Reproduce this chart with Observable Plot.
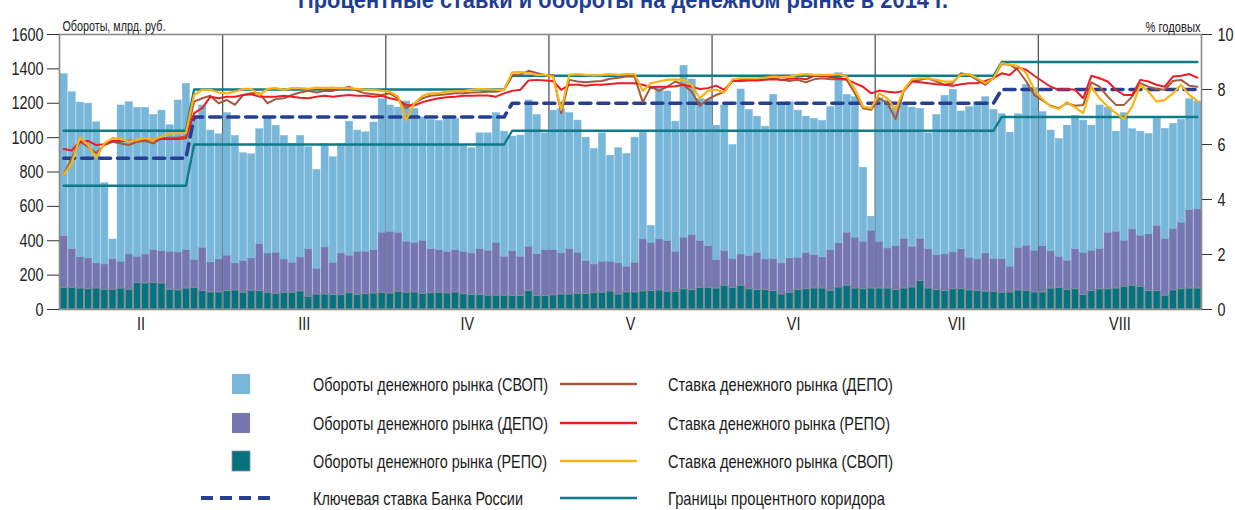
<!DOCTYPE html>
<html><head><meta charset="utf-8">
<script src="https://cdn.jsdelivr.net/npm/d3@7"></script>
<script src="https://cdn.jsdelivr.net/npm/@observablehq/plot@0.6"></script>
<style>
body{margin:0;background:#fff;}
#wrap{position:relative;width:1235px;height:510px;overflow:hidden;background:#fff;
 font-family:"Liberation Sans",Arial,sans-serif;}
#wrap svg{position:absolute;left:0;}
</style></head><body><div id="wrap"></div>
<script>
// ---------- data ----------
const titleText = "Процентные ставки и обороты на денежном рынке в 2014 г.";
const monthLabels = ["II","III","IV","V","VI","VII","VIII"];
const monthStartDay = [0,20,40,60,80,100,120];
const turnoverTicks = [0,200,400,600,800,1000,1200,1400,1600];
const rateTicks = [0,2,4,6,8,10];
const seriesNames = ["РЕПО","ДЕПО","СВОП"];

// daily turnover, bn RUB (stack: REPO bottom, DEPO middle, SWAP top)
const turnoverSwop = [
 942,913,899,901,821,473,114,909,886,866,853,786,817,736,884,967,830,828,767,728,
 829,742,627,606,668,796,738,719,691,707,594,575,602,614,637,780,705,695,742,776,
 735,728,816,779,717,751,751,773,763,621,612,673,683,754,728,666,705,851,810,679,
 811,839,790,769,718,672,747,617,670,656,728,621,99,880,870,757,1000,905,827,851,
 783,847,664,960,850,792,773,956,919,909,856,792,792,794,831,990,802,817,431,82,
 835,861,812,790,810,757,673,815,923,946,802,876,915,909,868,843,780,777,936,946,
 779,701,685,786,776,769,728,835,728,583,742,583,606,584,622,641,612,598,644,627];
const turnoverDepo = [
 301,225,183,179,146,147,178,156,205,154,169,191,189,221,221,224,163,252,175,192,
 206,157,185,188,274,229,239,194,175,198,276,150,274,188,242,218,252,247,253,350,
 359,344,297,289,309,257,249,243,247,247,242,268,262,308,227,262,229,258,244,268,
 264,239,265,239,191,167,181,173,181,150,173,303,281,297,295,233,301,320,272,243,
 165,202,167,182,193,217,178,186,181,200,188,212,195,181,237,257,309,296,276,336,
 272,233,256,288,237,245,230,204,213,214,232,190,184,223,190,196,150,248,264,243,
 270,218,181,171,232,246,235,235,330,330,268,328,297,330,380,330,357,387,457,461];
const turnoverRepo = [
 126,126,122,118,122,115,115,122,115,153,151,155,151,115,111,122,126,107,99,99,
 107,111,97,109,107,97,91,97,97,105,74,87,87,84,84,95,84,89,93,97,
 93,103,97,99,91,95,97,93,99,89,84,84,80,80,80,78,78,107,78,78,
 82,87,87,91,91,95,97,105,87,99,99,105,107,111,103,103,117,113,126,126,
 122,138,126,138,118,113,113,107,87,97,113,118,122,122,109,128,138,122,118,122,
 122,122,113,122,128,165,122,113,107,118,118,111,107,103,103,97,99,111,107,99,
 99,122,126,113,118,84,107,117,117,122,132,138,132,107,107,80,111,118,122,122];

// daily money-market rates, % p.a.
const rateDepo = [
 4.89,5.5,6.1,5.92,5.68,5.98,6.1,6.04,5.98,6.1,6.13,6.04,6.23,6.25,6.25,6.29,7.56,7.68,7.77,7.5,
 7.62,7.44,7.8,7.86,7.86,7.5,7.65,7.68,7.8,7.89,7.95,7.89,7.95,7.95,8.02,8.1,7.95,7.86,7.83,7.8,
 7.86,7.68,7.32,7.5,7.68,7.77,7.8,7.83,7.86,7.86,7.89,7.9,7.92,7.92,7.99,8.53,8.55,8.68,8.6,8.53,
 8.53,7.14,8.35,8.29,8.26,8.29,8.31,8.39,8.43,8.47,8.47,7.54,8.1,7.95,8.1,8.29,8.17,7.92,7.41,7.65,
 7.8,7.92,8.31,8.35,8.37,8.37,8.37,8.41,8.35,8.31,8.35,8.26,8.37,8.41,8.37,8.37,8.35,7.86,7.32,7.26,
 7.68,7.5,6.93,7.95,8.31,8.35,8.41,8.29,8.17,8.23,8.59,8.53,8.35,8.17,8.41,8.93,8.9,8.71,8.3,7.8,
 7.6,7.41,7.32,7.5,7.41,7.44,8.26,8.1,7.74,7.44,7.44,7.74,8.23,8.1,8.02,7.99,8.31,8.35,8.14,8.1];
const rateRepo = [
 5.84,5.78,6.1,6.13,5.98,6.01,6.14,6.12,6.14,6.15,6.19,6.17,6.2,6.2,6.2,6.23,7.14,7.32,7.74,7.68,
 7.74,7.74,7.8,7.83,7.74,7.74,7.74,7.77,7.74,7.7,7.68,7.74,7.77,7.74,7.77,7.8,7.77,7.77,7.74,7.77,
 7.68,7.62,7.44,7.42,7.54,7.62,7.68,7.72,7.74,7.77,7.77,7.78,7.78,7.74,7.86,7.95,7.99,8.33,8.35,8.33,
 8.31,7.99,8.17,8.17,8.14,8.17,8.17,8.2,8.23,8.23,8.23,8.17,8.08,8.1,8.1,8.12,8.17,8.1,8.02,8.05,
 8.14,7.99,8.31,8.31,8.33,8.33,8.35,8.37,8.35,8.39,8.41,8.37,8.5,8.5,8.45,8.41,8.37,8.23,8.1,7.86,
 7.96,7.92,7.89,7.95,8.29,8.26,8.23,8.19,8.17,8.14,8.19,8.23,8.23,8.31,8.41,8.59,8.53,8.8,8.72,8.5,
 8.3,8.1,7.99,8.02,7.99,7.68,8.5,8.41,8.29,7.99,7.8,7.8,8.35,8.29,8.17,8.1,8.47,8.5,8.56,8.43];
const rateSwop = [
 4.89,5.32,6.25,5.98,5.52,6.04,6.23,6.2,6.1,6.17,6.23,6.17,6.29,6.41,6.41,6.41,7.8,7.99,7.99,7.89,
 7.86,7.92,8.02,8.02,7.8,8.02,8.05,7.99,8.05,8.05,8.02,8.07,8.05,8.07,8.05,8.05,8.02,7.99,7.99,7.95,
 7.92,7.74,6.89,7.5,7.77,7.86,7.86,7.92,7.94,7.94,7.99,8.02,8.01,7.99,7.99,8.62,8.63,8.6,8.53,8.53,
 8.47,7.26,8.53,8.56,8.53,8.51,8.53,8.56,8.53,8.56,8.56,7.95,8.23,8.29,8.35,8.37,8.35,8.17,7.68,7.95,
 7.99,7.89,8.37,8.41,8.41,8.41,8.43,8.47,8.45,8.47,8.53,8.56,8.53,8.53,8.53,8.56,8.47,8.02,7.38,7.32,
 7.86,7.68,7.26,7.99,8.37,8.41,8.41,8.35,8.29,8.29,8.53,8.56,8.41,8.23,8.41,8.96,8.9,8.86,8.6,8.0,
 7.65,7.38,7.29,7.54,7.35,7.14,8.1,7.68,7.38,7.14,6.93,7.38,8.17,7.92,7.56,7.62,7.86,8.17,7.8,7.58];

// Bank of Russia policy: day index where each level starts
const policyStartDay = [0,16,55,115];
const keyRate      = [5.5,7.0,7.5,8.0];
const corridorLow  = [4.5,6.0,6.5,7.0];
const corridorHigh = [6.5,8.0,8.5,9.0];

const legendTurnover = ["Обороты денежного рынка (СВОП)","Обороты денежного рынка (ДЕПО)","Обороты денежного рынка (РЕПО)"];
const legendRates = ["Ставка денежного рынка (ДЕПО)","Ставка денежного рынка (РЕПО)","Ставка денежного рынка (СВОП)"];
const legendKey = "Ключевая ставка Банка России";
const legendCorridor = "Границы процентного коридора";
const axisLeftLabel = "Обороты, млрд. руб.";
const axisRightLabel = "% годовых";

// ---------- styles ----------
const C = {
  swop:"#78b7d9", depo:"#7677b0", repo:"#06717f", repoEdge:"#8d9498",
  lDepo:"#a65a3c", lRepo:"#ea1d25", lSwop:"#f8b417",
  corridor:"#0f7a88", key:"#273f91", grid:"#555", frame:"#8a8a8a", title:"#1f3d92"
};
const FONT = '"Liberation Sans",Arial,sans-serif';

// ---------- build ----------
const nDays = turnoverSwop.length;
const days = d3.range(nDays);
const K = turnoverTicks[turnoverTicks.length-1] / rateTicks[rateTicks.length-1]; // % -> shared scale
const policyAt = (arr, i) => arr[d3.bisectRight(policyStartDay, i) - 1];

const bars = days.flatMap(i => [
  {day:i, series:"РЕПО", value:turnoverRepo[i]},
  {day:i, series:"ДЕПО", value:turnoverDepo[i]},
  {day:i, series:"СВОП", value:turnoverSwop[i]}
]);
const repoBars = bars.filter(d => d.series === "РЕПО");

const lineOf = (get, opts) => Plot.line(days, {x: i => i + 0.5, y: i => get(i) * K, ...opts});

const chart = Plot.plot({
  width: 1235, height: 340,
  marginLeft: 59, marginRight: 34, marginTop: 34, marginBottom: 31,
  x: {domain: [0, nDays]},
  y: {domain: [0, turnoverTicks[turnoverTicks.length-1]]},
  color: {domain: seriesNames, range: [C.repo, C.depo, C.swop]},
  style: {fontFamily: FONT, fontSize: "19px", color: "#222", background: "#fff", overflow: "visible"},
  marks: [
    Plot.ruleX(monthStartDay.slice(1), {stroke: C.grid, strokeWidth: 1.3}),
    Plot.rectY(bars, {x: "day", interval: 1, y: "value", fill: "series", stroke: "series",
      strokeWidth: 0.5, order: seriesNames}),
    Plot.rectY(repoBars, {x: "day", interval: 1, y: "value", fill: C.repo, stroke: C.repoEdge, strokeWidth: 0.9}),
    Plot.frame({stroke: C.frame, strokeWidth: 1.6}),
    Plot.axisY({anchor: "left", ticks: turnoverTicks, tickFormat: d => String(d),
      tickSize: 12, tickPadding: 4, label: null, stroke: "#333", className: "tk"}),
    Plot.axisY({anchor: "right", ticks: rateTicks.map(r => r * K), tickFormat: d => String(d / K),
      tickSize: 10, tickPadding: 6, label: null, stroke: "#333", className: "tk"}),
    Plot.axisX({ticks: monthStartDay.map(d => d + 10),
      tickFormat: d => monthLabels[monthStartDay.indexOf(d - 10)], tickSize: 0, tickPadding: 7,
      label: null, className: "tk"}),
    Plot.text([axisLeftLabel], {frameAnchor: "top-left", dx: 3, dy: -13, textAnchor: "start",
      fontSize: 14, fill: "#222", className: "axlabL"}),
    Plot.text([axisRightLabel], {frameAnchor: "top-right", dx: -1, dy: -12, textAnchor: "end",
      fontSize: 14, fill: "#222", className: "axlabR"}),
    lineOf(i => policyAt(corridorHigh, i), {stroke: C.corridor, strokeWidth: 2.3}),
    lineOf(i => policyAt(corridorLow, i), {stroke: C.corridor, strokeWidth: 2.3}),
    lineOf(i => policyAt(keyRate, i), {stroke: C.key, strokeWidth: 3.6, strokeDasharray: "11,7"}),
    lineOf(i => rateDepo[i], {stroke: C.lDepo, strokeWidth: 2}),
    lineOf(i => rateRepo[i], {stroke: C.lRepo, strokeWidth: 2}),
    lineOf(i => rateSwop[i], {stroke: C.lSwop, strokeWidth: 2.2})
  ]
});
chart.style.top = "0px";
const wrap = document.getElementById("wrap");
wrap.appendChild(chart);

// narrow (condensed-looking) tick labels, like the reference typeface
d3.select(chart).selectAll(".tk text").each(function() {
  const w = this.getComputedTextLength();
  if (w > 0) { this.setAttribute("textLength", (w * 0.76).toFixed(1)); this.setAttribute("lengthAdjust", "spacingAndGlyphs"); }
});
d3.select(chart).selectAll(".axlabL text").attr("textLength", 103).attr("lengthAdjust", "spacingAndGlyphs");
d3.select(chart).selectAll(".axlabR text").attr("textLength", 55).attr("lengthAdjust", "spacingAndGlyphs");

// title (partially above the page edge, as in the reference)
const t = d3.select(wrap).append("svg").attr("width", 1235).attr("height", 30).style("top", "0px");
t.append("text").attr("x", 623).attr("y", 8).attr("text-anchor", "middle")
  .attr("font-family", FONT).attr("font-weight", "bold").attr("font-size", 24)
  .attr("fill", C.title).attr("textLength", 650).attr("lengthAdjust", "spacingAndGlyphs").text(titleText);

// legend
const lg = d3.select(wrap).append("svg").attr("width", 1235).attr("height", 170).style("top", "340px");
const rowY = [44, 83, 121, 158];
const sw = [C.swop, C.depo, C.repo];
const lineCols = [C.lDepo, C.lRepo, C.lSwop];
const w1 = [235, 235, 234], w2 = [225, 222, 225];
const txt = (x, y, s, w) => lg.append("text").attr("x", x).attr("y", y).attr("dominant-baseline", "central")
  .attr("font-family", FONT).attr("font-size", 18.5).attr("fill", "#1a1a1a")
  .attr("textLength", w).attr("lengthAdjust", "spacingAndGlyphs").text(s);
for (let r = 0; r < 3; r++) {
  lg.append("rect").attr("x", 232).attr("y", rowY[r] - 10).attr("width", 18).attr("height", 20)
    .attr("fill", sw[r]).attr("stroke", r === 2 ? C.repoEdge : "none").attr("stroke-width", 0.8);
  txt(313, rowY[r], legendTurnover[r], w1[r]);
  lg.append("line").attr("x1", 560).attr("x2", 637).attr("y1", rowY[r]).attr("y2", rowY[r])
    .attr("stroke", lineCols[r]).attr("stroke-width", 2.5);
  txt(668, rowY[r], legendRates[r], w2[r]);
}
lg.append("line").attr("x1", 201).attr("x2", 272).attr("y1", rowY[3]).attr("y2", rowY[3])
  .attr("stroke", C.key).attr("stroke-width", 4).attr("stroke-dasharray", "12,7");
txt(313, rowY[3], legendKey, 210);
lg.append("line").attr("x1", 560).attr("x2", 637).attr("y1", rowY[3]).attr("y2", rowY[3])
  .attr("stroke", C.corridor).attr("stroke-width", 2.5);
txt(668, rowY[3], legendCorridor, 217);
</script></body></html>
